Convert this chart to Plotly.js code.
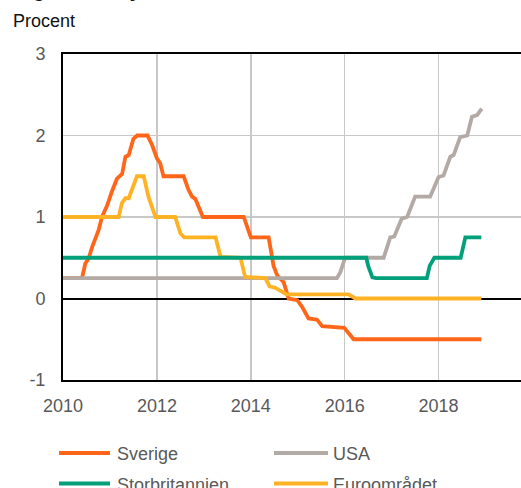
<!DOCTYPE html>
<html>
<head>
<meta charset="utf-8">
<script src="https://cdn.plot.ly/plotly-3.0.1.min.js"></script>
<style>
html,body{margin:0;padding:0;overflow:hidden;background:#fff;}
#chart{width:521px;height:488px;}
</style>
</head>
<body>
<div id="chart"></div>
<script>
// ---- data (decimal years, percent) ----
var seriesNames = ['Sverige', 'USA', 'Storbritannien', 'Euroområdet'];
var seriesColors = ['#FF6619', '#B3AAA5', '#00A07A', '#FFB224'];

var sverigeX = [2010.0, 2010.405, 2010.475, 2010.545, 2010.62, 2010.69, 2010.76, 2010.83, 2010.94, 2011.04, 2011.15, 2011.26, 2011.33, 2011.40, 2011.50, 2011.58, 2011.80, 2011.90, 2012.0, 2012.07, 2012.14, 2012.57, 2012.675, 2012.75, 2012.82, 2012.98, 2013.85, 2014.0, 2014.38, 2014.485, 2014.565, 2014.70, 2014.805, 2014.99, 2015.09, 2015.23, 2015.41, 2015.52, 2015.99, 2016.19, 2018.91];
var sverigeY = [0.25, 0.25, 0.43, 0.49, 0.63, 0.74, 0.84, 1.0, 1.14, 1.31, 1.47, 1.53, 1.74, 1.76, 1.96, 2.0, 2.0, 1.88, 1.72, 1.66, 1.5, 1.5, 1.33, 1.25, 1.22, 1.0, 1.0, 0.75, 0.75, 0.4, 0.28, 0.2, 0.0, -0.02, -0.1, -0.245, -0.26, -0.34, -0.36, -0.5, -0.5];

var usaX = [2010.0, 2015.835, 2015.905, 2016.01, 2016.83, 2016.97, 2017.055, 2017.215, 2017.33, 2017.50, 2017.82, 2018.0, 2018.105, 2018.25, 2018.32, 2018.46, 2018.61, 2018.71, 2018.82, 2018.92];
var usaY = [0.25, 0.25, 0.32, 0.5, 0.5, 0.75, 0.76, 0.98, 1.0, 1.25, 1.25, 1.49, 1.51, 1.74, 1.76, 1.98, 2.0, 2.23, 2.25, 2.33];

var ukX = [2010.0, 2016.46, 2016.50, 2016.59, 2016.67, 2017.75, 2017.81, 2017.91, 2018.47, 2018.57, 2018.91];
var ukY = [0.5, 0.5, 0.4, 0.26, 0.25, 0.25, 0.4, 0.5, 0.5, 0.75, 0.75];

var euroX = [2010.0, 2011.185, 2011.255, 2011.33, 2011.40, 2011.47, 2011.575, 2011.72, 2011.82, 2011.97, 2012.39, 2012.50, 2012.58, 2013.25, 2013.355, 2013.78, 2013.88, 2014.31, 2014.40, 2014.53, 2014.76, 2016.08, 2016.23, 2018.91];
var euroY = [1.0, 1.0, 1.17, 1.23, 1.23, 1.35, 1.5, 1.5, 1.25, 1.0, 1.0, 0.8, 0.75, 0.75, 0.51, 0.5, 0.265, 0.25, 0.15, 0.13, 0.05, 0.05, 0.0, 0.0];

var xTickVals = [2010, 2012, 2014, 2016, 2018];
var xTickText = ['2010', '2012', '2014', '2016', '2018'];
var yTickVals = [-1, 0, 1, 2, 3];
var yTickText = ['-1', '0', '1', '2', '3'];

var yAxisLabel = 'Procent';
var titleText = 'Diagram 3. Styrräntor';

// ---- layout helpers (pixel -> paper) ----
var W = 521, H = 488;
var mL = 63, mR = 0, mT = 54, mB = 108;
var pw = W - mL - mR, ph = H - mT - mB;
function px(x) { return (x - mL) / pw; }
function py(y) { return (H - mB - y) / ph; }

var FONT = 'Liberation Sans, Arial, Helvetica, sans-serif';
var W_LINE = 3.8;

var xs = [sverigeX, usaX, ukX, euroX];
var ys = [sverigeY, usaY, ukY, euroY];
var drawOrder = [0, 1, 3, 2]; // Sverige bottom, USA, Euro, UK on top

var traces = drawOrder.map(function (i) {
  return {
    x: xs[i], y: ys[i], type: 'scatter', mode: 'lines', name: seriesNames[i],
    line: { color: seriesColors[i], width: W_LINE },
    hoverinfo: 'skip', showlegend: false
  };
});

// manual legend
var legendSlots = [
  { x0: 59, x1: 110, tx: 115, y: 453 },
  { x0: 274, x1: 328, tx: 331, y: 453 },
  { x0: 59, x1: 110, tx: 115, y: 483.5 },
  { x0: 274, x1: 328, tx: 331, y: 483.5 }
];
var shapes = [], annotations = [];
seriesNames.forEach(function (n, i) {
  var s = legendSlots[i];
  shapes.push({ type: 'line', xref: 'paper', yref: 'paper', x0: px(s.x0), x1: px(s.x1), y0: py(s.y), y1: py(s.y),
    line: { color: seriesColors[i], width: 4 } });
  annotations.push({ xref: 'paper', yref: 'paper', x: px(s.tx), y: py(s.y + 1), xanchor: 'left', yanchor: 'middle',
    text: n, showarrow: false, font: { family: FONT, size: 18, color: '#595959' } });
});
annotations.push({ xref: 'paper', yref: 'paper', x: px(11), y: py(21), xanchor: 'left', yanchor: 'middle',
  text: yAxisLabel, showarrow: false, font: { family: FONT, size: 18, color: '#111' } });
annotations.push({ xref: 'paper', yref: 'paper', x: px(0), y: py(3.5), xanchor: 'left', yanchor: 'bottom',
  text: '<b>' + titleText + '</b>', showarrow: false, font: { family: FONT, size: 20, color: '#111' } });

var layout = {
  width: W, height: H,
  margin: { l: mL, r: mR, t: mT, b: mB, pad: 0 },
  paper_bgcolor: '#fff', plot_bgcolor: '#fff',
  font: { family: FONT, size: 18, color: '#595959' },
  showlegend: false,
  xaxis: {
    type: 'linear', range: [2010, 2010 + pw / 46.95], fixedrange: true,
    tickvals: xTickVals, ticktext: xTickText, ticks: '', ticklabelstandoff: 8,
    showgrid: true, gridcolor: '#C8C8C8', gridwidth: 1.5,
    showline: true, linecolor: '#000', linewidth: 2, mirror: true,
    zeroline: false, tickfont: { family: FONT, size: 18, color: '#595959' }
  },
  yaxis: {
    range: [-1, 3], fixedrange: true,
    tickvals: yTickVals, ticktext: yTickText, ticks: '', ticklabelstandoff: 12,
    showgrid: true, gridcolor: '#C8C8C8', gridwidth: 1.5,
    showline: true, linecolor: '#000', linewidth: 2, mirror: false,
    zeroline: true, zerolinecolor: '#000', zerolinewidth: 2,
    tickfont: { family: FONT, size: 18, color: '#595959' }
  },
  shapes: shapes,
  annotations: annotations
};

Plotly.newPlot('chart', traces, layout, { staticPlot: true, displayModeBar: false });
</script>
</body>
</html>
